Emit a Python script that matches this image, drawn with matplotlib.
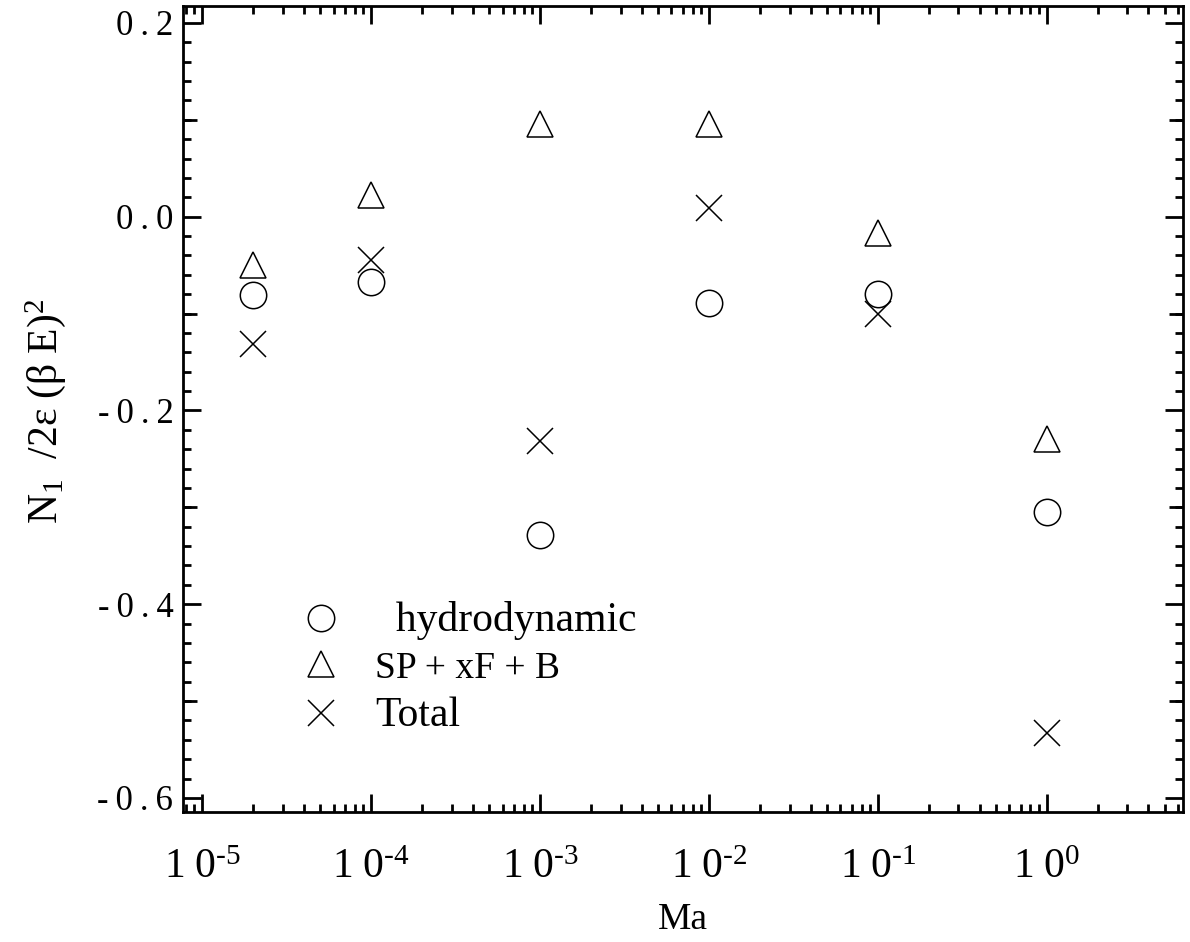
#!/usr/bin/python3

import matplotlib
matplotlib.use('Agg')
import matplotlib.pyplot as plt
from matplotlib.ticker import FixedLocator, LogLocator, MultipleLocator, NullFormatter, NullLocator

plt.rcParams['font.family'] = ['Liberation Serif', 'DejaVu Serif']
plt.rcParams['mathtext.fontset'] = 'custom'
plt.rcParams['mathtext.rm'] = 'Liberation Serif'
plt.rcParams['mathtext.it'] = 'Liberation Serif:italic'
plt.rcParams['mathtext.bf'] = 'Liberation Serif:bold'

##### DATA #####
ma = [2e-5, 1e-4, 1e-3, 1e-2, 1e-1, 1e0]
hydro = [-0.081, -0.067, -0.329, -0.089, -0.080, -0.305]
spxfb = [-0.050, 0.022, 0.096, 0.096, -0.017, -0.229]
total = [-0.131, -0.045, -0.232, 0.009, -0.100, -0.533]
series_labels = ['  hydrodynamic', 'SP + xF + B', 'Total']

xtick_vals = [1e-5, 1e-4, 1e-3, 1e-2, 1e-1, 1e0]
xtick_exps = ['-5', '-4', '-3', '-2', '-1', '0']
ytick_vals = [-0.6, -0.4, -0.2, 0.0, 0.2]
ytick_text = ['-0.6', '-0.4', '-0.2', '0.0', '0.2']
ymid_vals = [-0.5, -0.3, -0.1, 0.1]


###### PLOT ######
def plot():
	fig = plt.figure(figsize=(11.9, 9.42), dpi=100)
	ax = fig.add_axes([0.1538, 0.138, 0.8403, 0.8556])

	mk = dict(ls='none', mfc='none', mec='black', mew=1.1, ms=19)
	ax.plot(ma, hydro, marker='o', label=series_labels[0], **mk)
	ax.plot(ma, spxfb, marker='^', label=series_labels[1], **mk)
	ax.plot(ma, total, marker='x', label=series_labels[2], **mk)

	ax.set_xscale('log')
	ax.set_xlim(7.7e-6, 6.4)
	ax.set_ylim(-0.6145, 0.2175)

	# ticks: inward on all four sides
	ax.xaxis.set_major_locator(FixedLocator(xtick_vals))
	ax.set_xticklabels([r'$\mathrm{1\ 0}^{\text{' + e + '}}$' for e in xtick_exps])
	ax.xaxis.set_minor_locator(LogLocator(base=10, subs=range(2, 10), numticks=20))
	ax.xaxis.set_minor_formatter(NullFormatter())
	ax.set_yticks(ytick_vals)
	ax.set_yticklabels(['\u2009'.join(t) for t in ytick_text])
	ax.yaxis.set_minor_locator(MultipleLocator(0.02))

	ax.tick_params(which='both', direction='in', top=True, right=True, width=2)
	ax.tick_params(which='major', length=13)
	ax.tick_params(which='minor', length=6)
	ax.tick_params(axis='x', which='major', labelsize=30, pad=26)
	ax.tick_params(axis='y', which='major', labelsize=25, pad=7)
	for sp in ax.spines.values():
		sp.set_linewidth(2)

	# medium ticks at odd tenths
	for side in ['left', 'right']:
		sec = ax.secondary_yaxis(side)
		sec.set_yticks(ymid_vals)
		sec.set_yticklabels([])
		sec.yaxis.set_minor_locator(NullLocator())
		sec.tick_params(direction='in', length=10, width=2)
		for sp in sec.spines.values():
			sp.set_visible(False)

	ax.set_xlabel('Ma', fontsize=27)
	ax.xaxis.set_label_coords(0.5, -0.112)
	ax.set_ylabel(r'$\mathrm{N_1\ \ /2\varepsilon\ (\beta\ E)^2}$', fontsize=30)
	ax.yaxis.set_label_coords(-0.115, 0.4975)

	leg = ax.legend(loc='upper left', bbox_to_anchor=(0.121, 0.262), frameon=False,
		fontsize=27, handlelength=0.9, handletextpad=1.0, labelspacing=0.3,
		borderpad=0, borderaxespad=0)
	leg.get_texts()[0].set_fontsize(30)
	leg.get_texts()[2].set_fontsize(30)

	fig.savefig('out.png', dpi=100)
	plt.close()

plot()
